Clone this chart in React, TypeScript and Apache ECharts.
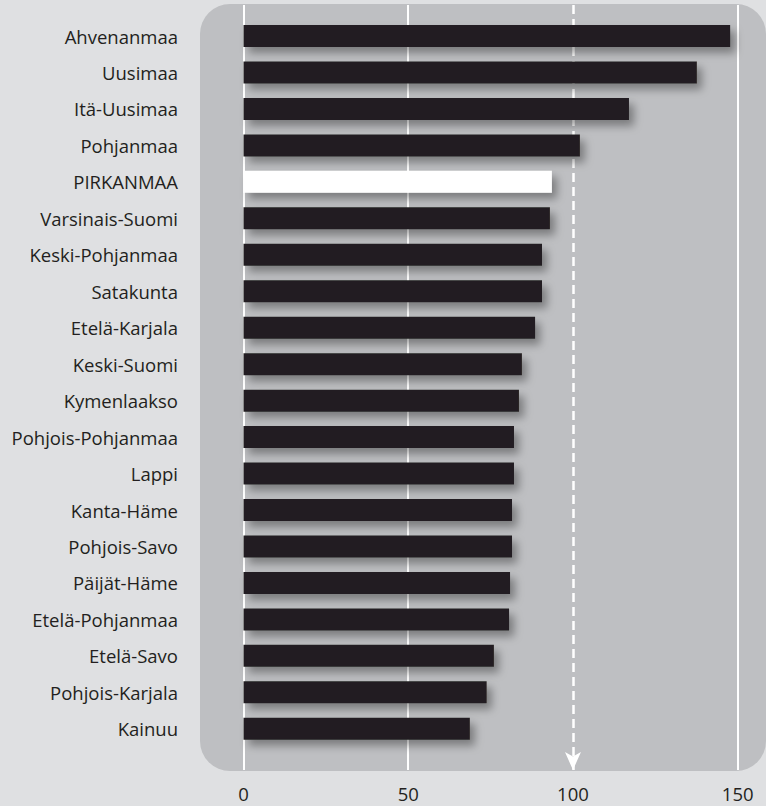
import React, { useEffect, useRef } from "react";
import * as echarts from "echarts";

const regions = [
  "Ahvenanmaa", "Uusimaa", "Itä-Uusimaa", "Pohjanmaa", "PIRKANMAA",
  "Varsinais-Suomi", "Keski-Pohjanmaa", "Satakunta", "Etelä-Karjala", "Keski-Suomi",
  "Kymenlaakso", "Pohjois-Pohjanmaa", "Lappi", "Kanta-Häme", "Pohjois-Savo",
  "Päijät-Häme", "Etelä-Pohjanmaa", "Etelä-Savo", "Pohjois-Karjala", "Kainuu",
];
const values = [
  147.7, 137.6, 117.0, 102.1, 93.6,
  93.0, 90.6, 90.6, 88.5, 84.5,
  83.6, 82.1, 82.1, 81.5, 81.5,
  80.9, 80.6, 76.0, 73.8, 68.7,
];
const highlight = "PIRKANMAA";
const gridTicks = [0, 50, 150];
const referenceValue = 100;

const FONT = "'Open Sans', 'Noto Sans', sans-serif";
const TEXT = "#231f20";

export default function App() {
  const ref = useRef<HTMLDivElement>(null);
  useEffect(() => {
    document.body.style.margin = "0";
    const chart = echarts.init(ref.current!, null, { renderer: "svg" });
    const left = 243.5;
    const width = 494.2;
    chart.setOption({
      animation: false,
      backgroundColor: "#dfe0e2",
      textStyle: { fontFamily: FONT },
      graphic: [
        {
          type: "rect",
          z: -10,
          silent: true,
          shape: { x: 200, y: 4, width: 566, height: 767, r: 30 },
          style: { fill: "#bebfc2" },
        },
      ],
      grid: [
        { left, width, top: 5, height: 765 },
        { left, width, top: 17.8, height: 729.2 },
      ],
      xAxis: [
        {
          type: "value",
          gridIndex: 0,
          min: 0,
          max: 150,
          interval: 50,
          axisLine: { show: false },
          axisTick: { show: false },
          splitLine: { show: false },
          axisLabel: {
            margin: 14,
            fontSize: 18.5,
            color: TEXT,
            fontFamily: FONT,
          },
        },
        {
          type: "value",
          gridIndex: 1,
          min: 0,
          max: 150,
          show: false,
        },
      ],
      yAxis: [
        {
          type: "value",
          gridIndex: 0,
          min: 0,
          max: 1,
          show: false,
        },
        {
          type: "category",
          gridIndex: 1,
          data: regions,
          inverse: true,
          axisLine: { show: false },
          axisTick: { show: false },
          splitLine: { show: false },
          axisLabel: {
            margin: 65.5,
            fontSize: 18.5,
            color: TEXT,
            fontFamily: FONT,
          },
        },
      ],
      series: [
        {
          type: "line",
          xAxisIndex: 0,
          yAxisIndex: 0,
          data: [],
          silent: true,
          z: 1,
          markLine: {
            silent: true,
            animation: false,
            symbol: ["none", "none"],
            label: { show: false },
            emphasis: { disabled: true },
            lineStyle: { color: "#ffffff", width: 2, type: "solid" },
            data: gridTicks.map((t) => ({ xAxis: t })),
          },
        },
        {
          type: "line",
          xAxisIndex: 0,
          yAxisIndex: 0,
          data: [],
          silent: true,
          z: 1,
          markLine: {
            silent: true,
            animation: false,
            symbol: ["arrow", "none"],
            symbolSize: [12, 18],
            label: { show: false },
            emphasis: { disabled: true },
            lineStyle: { color: "#ffffff", width: 2.5, type: [9, 5] },
            data: [{ xAxis: referenceValue }],
          },
        },
        {
          type: "bar",
          xAxisIndex: 1,
          yAxisIndex: 1,
          z: 5,
          barWidth: 22,
          data: values.map((v, i) => ({
            value: v,
            itemStyle: {
              color: regions[i] === highlight ? "#ffffff" : "#231f20",
            },
          })),
          itemStyle: {
            shadowBlur: 8,
            shadowOffsetX: 5,
            shadowOffsetY: 6,
            shadowColor: "rgba(0,0,0,0.35)",
          },
        },
      ],
    });
    return () => chart.dispose();
  }, []);
  return <div ref={ref} style={{ width: 766, height: 806 }} />;
}
